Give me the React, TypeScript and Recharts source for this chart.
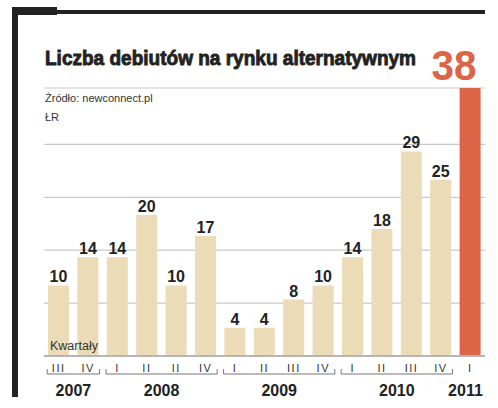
import React from "react";
import { BarChart, Bar, XAxis, YAxis, CartesianGrid, Cell, LabelList } from "recharts";

const quarters = ["III", "IV", "I", "II", "II", "IV", "I", "II", "III", "IV", "I", "II", "III", "IV", "I"];
const years = ["2007", "2007", "2008", "2008", "2008", "2008", "2009", "2009", "2009", "2009", "2010", "2010", "2010", "2010", "2011"];
const debuts = [10, 14, 14, 20, 10, 17, 4, 4, 8, 10, 14, 18, 29, 25, 38];
const gridTicks = [0, 7.5, 15, 22.5, 30, 38];

const data = quarters.map((q, i) => ({ key: i, q, year: years[i], value: debuts[i] }));

const BEIGE = "#ebdbb6";
const ORANGE = "#dc6447";
const INK = "#222";
const BAR_W = 21;
const FONT = "'Liberation Sans', Arial, sans-serif";
const TITLE = "Liczba debiutów na rynku alternatywnym";

// squeeze the title into the width it has in the original layout
function titleScale(target: number) {
  const ctx = document.createElement("canvas").getContext("2d");
  if (!ctx) return 0.9;
  ctx.font = `bold 21px ${FONT}`;
  return target / ctx.measureText(TITLE).width;
}

// quarter label + year bracket, drawn per tick
const QuarterTick = (props: any) => {
  const { x, y, payload, index } = props;
  const i = payload?.index ?? index;
  const band = (payload?.offset ?? 14.7) * 2;
  const yr = years[i];
  const first = i === 0 || years[i - 1] !== yr;
  const last = i === years.length - 1 || years[i + 1] !== yr;
  const single = first && last;
  const by = y + 10;
  let x1 = x - band / 2;
  let x2 = x + band / 2;
  if (first) x1 = x - BAR_W / 2 - 1;
  if (last) x2 = x + BAR_W / 2 + 1;
  let n = 1;
  if (last) {
    let j = i;
    while (j > 0 && years[j - 1] === yr) j--;
    n = i - j + 1;
  }
  const yearX = x - ((n - 1) / 2) * band;
  return (
    <g>
      <text x={x} y={y + 7.5} textAnchor="middle" fontSize={11} fill="#333" stroke="none" letterSpacing={1.5}>
        {payload.value}
      </text>
      {!single && <line x1={x1} x2={x2} y1={by} y2={by} stroke="#777" strokeWidth={1} />}
      {!single && first && <line x1={x1} x2={x1} y1={by} y2={by - 5} stroke="#777" strokeWidth={1} />}
      {!single && last && <line x1={x2} x2={x2} y1={by} y2={by - 5} stroke="#777" strokeWidth={1} />}
      {last && (
        <text
          x={single ? x + BAR_W / 2 + 2 : yearX}
          y={y + 32}
          textAnchor={single ? "end" : "middle"}
          fontSize={16}
          fontWeight="bold"
          fill={INK}
          stroke="none"
        >
          {yr}
        </text>
      )}
    </g>
  );
};

const ValueLabel = (props: any) => {
  const { x, y, width, value, index } = props;
  if (index === debuts.length - 1) {
    return (
      <text
        x={x + width - 4}
        y={80}
        textAnchor="end"
        fontSize={42}
        fontWeight="bold"
        fill={ORANGE}
        textLength={45}
        lengthAdjust="spacingAndGlyphs"
      >
        {value}
      </text>
    );
  }
  return (
    <text x={x + width / 2} y={y - 3} textAnchor="middle" fontSize={16} fontWeight="bold" fill={INK}>
      {value}
    </text>
  );
};

export default function App() {
  const sx = titleScale(371);
  return (
    <div
      style={{
        position: "fixed",
        left: 0,
        top: 0,
        width: 498,
        height: 408,
        background: "#fff",
        fontFamily: FONT,
        overflow: "hidden",
      }}
    >
      <div style={{ position: "absolute", left: 12, top: 7, width: 45, height: 8, background: INK }} />
      <div style={{ position: "absolute", left: 56, top: 10, width: 429, height: 4, background: INK }} />
      <div style={{ position: "absolute", left: 12, top: 7, width: 6, height: 390, background: INK }} />
      <div
        style={{
          position: "absolute",
          left: 45,
          top: 46,
          fontSize: 21,
          lineHeight: "24px",
          fontWeight: "bold",
          color: INK,
          whiteSpace: "nowrap",
          WebkitTextStroke: "0.9px " + INK,
          transform: `scaleX(${sx})`,
          transformOrigin: "0 0",
        }}
      >
        {TITLE}
      </div>
      <BarChart
        width={498}
        height={408}
        data={data}
        margin={{ top: 88, right: 13, bottom: 0, left: 44 }}
        style={{ position: "absolute", left: 0, top: 0 }}
      >
        <CartesianGrid horizontal vertical={false} stroke="#c9c9c9" strokeWidth={1.2} />
        <YAxis hide domain={[0, 38]} ticks={gridTicks} />
        <XAxis
          dataKey="q"
          interval={0}
          tickLine={false}
          axisLine={{ stroke: "#b5b5b5", strokeWidth: 2 }}
          tick={<QuarterTick />}
          height={52}
        />
        <Bar dataKey="value" barSize={BAR_W} isAnimationActive={false}>
          {data.map((d, i) => (
            <Cell key={d.key} fill={i === data.length - 1 ? ORANGE : BEIGE} />
          ))}
          <LabelList dataKey="value" content={<ValueLabel />} />
        </Bar>
      </BarChart>
      <div style={{ position: "absolute", left: 45, top: 92, fontSize: 11, color: "#333" }}>Źródło: newconnect.pl</div>
      <div style={{ position: "absolute", left: 45, top: 111, fontSize: 11, color: "#333" }}>ŁR</div>
      <div style={{ position: "absolute", left: 50, top: 339, fontSize: 12.5, color: "#333" }}>Kwartały</div>
    </div>
  );
}
